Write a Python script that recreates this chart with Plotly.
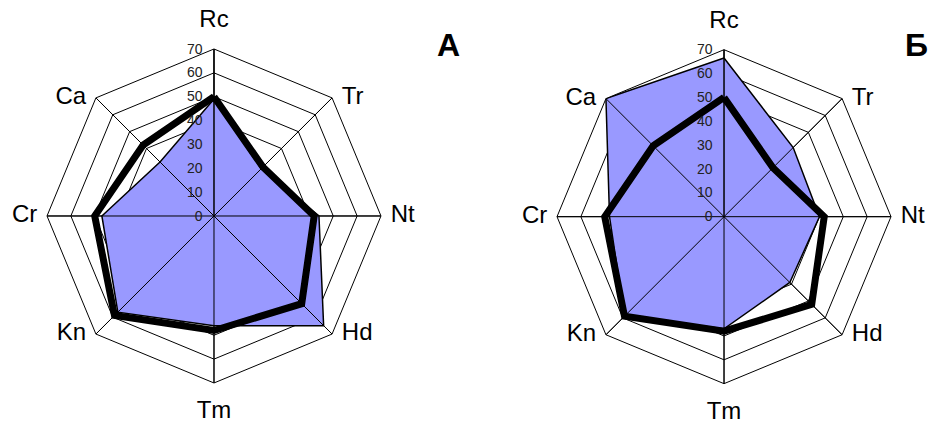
import plotly.graph_objects as go

# Axes, clockwise from the top
categories = ['Rc', 'Tr', 'Nt', 'Hd', 'Tm', 'Kn', 'Cr', 'Ca']
label_pos = ['top center', 'middle right', 'middle right', 'middle right',
             'bottom center', 'middle left', 'middle left', 'middle left']
label_gap = [24, 14, 14, 14, 26, 14, 14, 14]

# Thick black profile (same in both panels)
profile_line = [50, 29, 42, 52, 48, 59, 50, 42]
# Filled profiles
filled_a = [49, 28, 44, 65, 46, 57, 47, 32]
filled_b = [66.5, 41, 40, 39, 47, 59, 48, 70]

panel_labels = ['А', 'Б']
r_max = 70
tick_vals = list(range(0, 71, 10))

FILL = '#9999FF'
FONT = 'Liberation Sans, Arial'


def closed(vals):
    return list(vals) + [vals[0]]


fig = go.Figure()

for filled, name in [(filled_a, 'polar'), (filled_b, 'polar2')]:
    theta = closed(categories)
    fig.add_trace(go.Scatterpolar(
        r=closed(filled), theta=theta, subplot=name, mode='lines',
        fill='toself', fillcolor=FILL, line=dict(color='black', width=1.5),
        showlegend=False, hoverinfo='skip'))
    # spokes drawn over the fill
    for c in categories:
        fig.add_trace(go.Scatterpolar(
            r=[0, r_max], theta=[c, c], subplot=name, mode='lines',
            line=dict(color='black', width=1), showlegend=False,
            hoverinfo='skip'))
    fig.add_trace(go.Scatterpolar(
        r=closed(profile_line), theta=theta, subplot=name, mode='lines',
        line=dict(color='black', width=7), showlegend=False,
        hoverinfo='skip'))
    # category labels just outside the outer ring
    fig.add_trace(go.Scatterpolar(
        r=[r_max] * len(categories), theta=categories, subplot=name,
        mode='markers+text', text=categories, textposition=label_pos,
        marker=dict(size=label_gap, opacity=0), cliponaxis=False,
        textfont=dict(family=FONT, size=24, color='black'),
        showlegend=False, hoverinfo='skip'))

polar_style = dict(
    gridshape='linear',
    bgcolor='white',
    radialaxis=dict(
        range=[0, r_max], tickvals=tick_vals, angle=90, tickangle=90,
        side='counterclockwise', showline=True, linecolor='black',
        linewidth=1, gridcolor='black', gridwidth=1,
        ticks='outside', ticklen=6, tickcolor='rgba(0,0,0,0)',
        tickfont=dict(family=FONT, size=14, color='#222'),
        layer='above traces'),
    angularaxis=dict(
        direction='clockwise', rotation=90, categoryorder='array',
        categoryarray=categories, showline=True, linecolor='black',
        linewidth=1, showgrid=True, gridcolor='black', gridwidth=1,
        ticks='', showticklabels=False),
)

fig.update_layout(
    width=929, height=423,
    margin=dict(l=0, r=0, t=0, b=0),
    paper_bgcolor='white',
    polar=dict(domain=dict(x=[0.0506, 0.4101], y=[0.0946, 0.8842]),
               **polar_style),
    polar2=dict(domain=dict(x=[0.5996, 0.9591], y=[0.0929, 0.8826]),
                **polar_style),
    annotations=[
        dict(text=panel_labels[0], x=448 / 929, y=1 - 45 / 423,
             xref='paper', yref='paper', showarrow=False,
             font=dict(family=FONT, size=32, color='black', weight='bold'),
             xanchor='center', yanchor='middle'),
        dict(text=panel_labels[1], x=916 / 929, y=1 - 45 / 423,
             xref='paper', yref='paper', showarrow=False,
             font=dict(family=FONT, size=32, color='black', weight='bold'),
             xanchor='center', yanchor='middle'),
    ],
)

# drop the default page margin so the figure sits at the window's corner
fig.write_html('out.html', config={'displayModeBar': False}, post_script=(
    "document.body.style.margin='0';"
    "document.body.style.overflow='hidden';"))
